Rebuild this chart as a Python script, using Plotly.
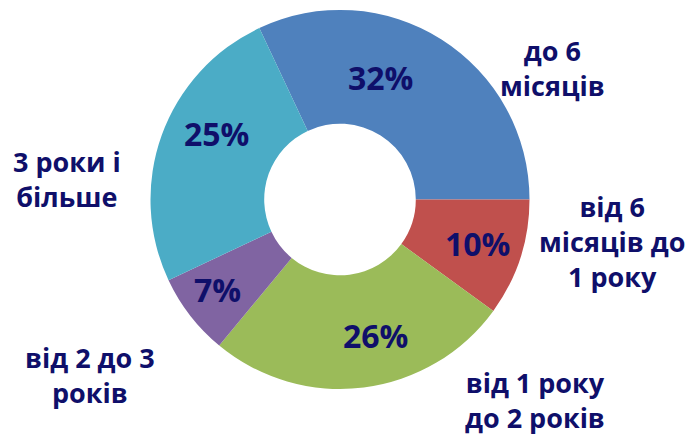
import plotly.graph_objects as go

# ---- data ----
categories = ["до 6<br>місяців", "від 6<br>місяців до<br>1 року", "від 1 року<br>до 2 років",
              "від 2 до 3<br>років", "3 роки і<br>більше"]
values = [32, 10, 26, 7, 25]

# ---- style ----
colors = ["#4F81BD", "#C0504D", "#9BBB59", "#8064A2", "#4BACC6"]
text_color = "#0F0F6A"
font_family = "Open Sans"
W, H = 686, 437
# pixel positions of the category labels and percentage labels (layout only)
label_pos = [(552, 68), (612, 241), (535, 400), (90, 375), (67, 179)]
pct_pos = [(380, 78), (477, 243), (375, 335), (217, 289), (216, 133)]

fig = go.Figure(go.Pie(
    labels=categories,
    values=values,
    marker=dict(colors=colors, line=dict(width=0)),
    hole=0.4,
    sort=False,
    direction="clockwise",
    rotation=-25.2,
    textinfo="none",
    hoverinfo="label+percent",
    showlegend=False,
    domain=dict(x=[150 / W, 530 / W], y=[1 - 389 / H, 1 - 10 / H]),
))

annotations = []
for cat, (px, py) in zip(categories, label_pos):
    annotations.append(dict(
        text=cat, x=px / W, y=1 - py / H, xref="paper", yref="paper",
        xanchor="center", yanchor="middle", showarrow=False, align="center",
        font=dict(family=font_family, size=27, color=text_color, weight="bold"),
    ))
total = sum(values)
for v, (px, py) in zip(values, pct_pos):
    annotations.append(dict(
        text=f"{round(100 * v / total)}%", x=px / W, y=1 - py / H, xref="paper", yref="paper",
        xanchor="center", yanchor="middle", showarrow=False,
        font=dict(family=font_family, size=32, color=text_color, weight="bold"),
    ))

fig.update_layout(
    width=W, height=H,
    margin=dict(l=0, r=0, t=0, b=0),
    paper_bgcolor="white", plot_bgcolor="white",
    annotations=annotations,
)

fig.write_html("out.html", config={"displayModeBar": False},
               post_script="document.body.style.margin='0';document.body.style.overflow='hidden';")
